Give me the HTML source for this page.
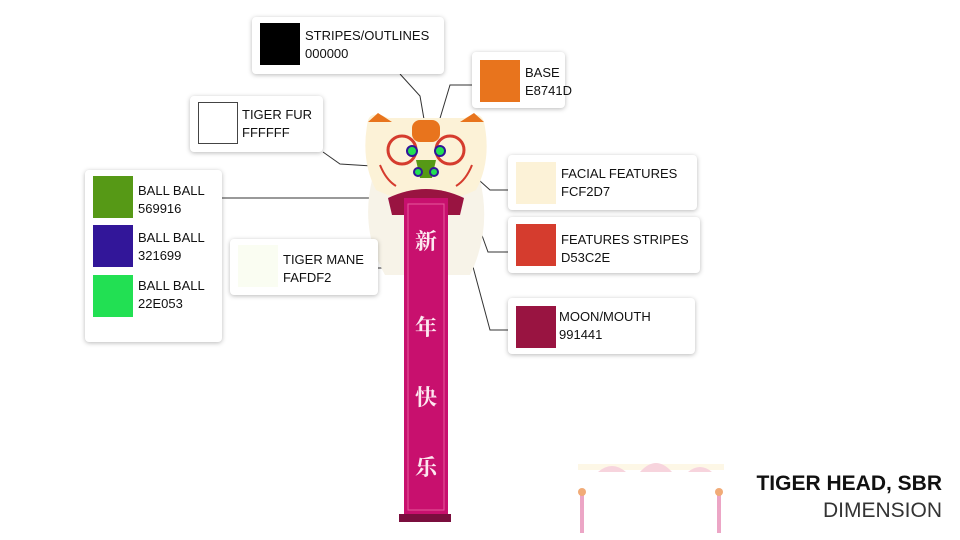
<!DOCTYPE html>
<html><head><meta charset="utf-8"><style>
body{margin:0;width:960px;height:540px;background:#fff;position:relative;overflow:hidden;font-family:"Liberation Sans","Noto Sans CJK SC",sans-serif}
.b{position:absolute;background:#fff;border-radius:4px;box-shadow:0 1px 5px rgba(0,0,0,.28)}
.s{position:absolute;width:40px;height:42px}
.t{position:absolute;font-size:13px;line-height:18px;color:#111}
</style></head><body>
<svg width="960" height="540" style="position:absolute;left:0;top:0">
<g stroke="#333" stroke-width="1" fill="none">
<polyline points="400,74 420,96 425,125"/>
<polyline points="472,85 450,85 438,125"/>
<polyline points="323,152 340,164 372,166"/>
<polyline points="222,198 410,198 418,170"/>
<polyline points="508,190 490,190 470,172"/>
<polyline points="508,252 488,252 462,180"/>
<polyline points="508,330 490,330 455,200"/>
<polyline points="378,268 392,268"/>
</g>
<path d="M372,180 Q360,230 385,275 L470,275 Q492,230 480,180Z" fill="#f7f3e8"/>
<path d="M368,120 Q372,110 388,118 L465,118 Q480,110 484,122 Q492,160 476,190 Q426,214 376,190 Q360,160 368,120Z" fill="#fcf2d7"/>
<path d="M368,122 L378,113 L392,122 Z M484,122 L474,113 L460,122Z" fill="#e8741d"/>
<rect x="412" y="120" width="28" height="22" rx="8" fill="#e8741d"/>
<circle cx="402" cy="150" r="14" fill="none" stroke="#d53c2e" stroke-width="3"/>
<circle cx="450" cy="150" r="14" fill="none" stroke="#d53c2e" stroke-width="3"/>
<path d="M380,165 Q386,180 396,186 M472,165 Q466,180 456,186" stroke="#d53c2e" stroke-width="2" fill="none"/>
<circle cx="412" cy="151" r="5" fill="#22e053" stroke="#321699" stroke-width="2"/>
<circle cx="440" cy="151" r="5" fill="#22e053" stroke="#321699" stroke-width="2"/>
<path d="M416,160 L436,160 L432,178 L420,178Z" fill="#569916"/>
<circle cx="418" cy="172" r="4" fill="#22e053" stroke="#321699" stroke-width="2"/>
<circle cx="434" cy="172" r="4" fill="#22e053" stroke="#321699" stroke-width="2"/>
<path d="M388,198 Q426,180 464,198 L460,215 L392,215Z" fill="#991441"/>
<rect x="404" y="198" width="44" height="318" fill="#c8106e"/>
<rect x="408" y="204" width="36" height="306" fill="none" stroke="#e65a9c" stroke-width="1"/>
<rect x="399" y="514" width="52" height="8" fill="#7a0e3e"/>
<g opacity=".6">
<rect x="578" y="464" width="146" height="6" fill="#fcf2d7"/>
<path d="M598,472 Q612,460 626,472Z M640,472 Q656,454 672,472Z M688,472 Q700,462 712,472Z" fill="#f3b8c8"/>
<rect x="580" y="495" width="4" height="38" fill="#e06aa0"/>
<rect x="717" y="495" width="4" height="38" fill="#e06aa0"/>
<circle cx="582" cy="492" r="4" fill="#e8741d"/>
<circle cx="719" cy="492" r="4" fill="#e8741d"/>
</g>
</svg>
<div style="position:absolute;left:404px;top:230px;width:44px;text-align:center;color:#fde8f0;font-size:22px;font-weight:bold;font-family:'Noto Serif CJK SC','Noto Sans CJK SC',serif;line-height:1">
<div style="position:absolute;top:0;width:44px">新</div>
<div style="position:absolute;top:86px;width:44px">年</div>
<div style="position:absolute;top:156px;width:44px">快</div>
<div style="position:absolute;top:226px;width:44px">乐</div>
</div>

<div class="b" style="left:252px;top:17px;width:192px;height:57px"><div class="s" style="left:8px;top:6px;background:#000"></div><div class="t" style="left:53px;top:10px">STRIPES/OUTLINES<br>000000</div></div>
<div class="b" style="left:472px;top:52px;width:93px;height:56px"><div class="s" style="left:8px;top:8px;background:#e8741d"></div><div class="t" style="left:53px;top:12px">BASE<br>E8741D</div></div>
<div class="b" style="left:190px;top:96px;width:133px;height:56px"><div class="s" style="left:8px;top:6px;background:#fff;border:1px solid #444;width:38px;height:40px"></div><div class="t" style="left:52px;top:10px">TIGER FUR<br>FFFFFF</div></div>
<div class="b" style="left:508px;top:155px;width:189px;height:55px"><div class="s" style="left:8px;top:7px;background:#fcf2d7"></div><div class="t" style="left:53px;top:10px">FACIAL FEATURES<br>FCF2D7</div></div>
<div class="b" style="left:508px;top:217px;width:192px;height:56px"><div class="s" style="left:8px;top:7px;background:#d53c2e"></div><div class="t" style="left:53px;top:14px">FEATURES STRIPES<br>D53C2E</div></div>
<div class="b" style="left:508px;top:298px;width:187px;height:56px"><div class="s" style="left:8px;top:8px;background:#991441"></div><div class="t" style="left:51px;top:10px">MOON/MOUTH<br>991441</div></div>
<div class="b" style="left:85px;top:170px;width:137px;height:172px">
<div class="s" style="left:8px;top:6px;background:#569916"></div><div class="t" style="left:53px;top:12px">BALL BALL<br>569916</div>
<div class="s" style="left:8px;top:55px;background:#321699"></div><div class="t" style="left:53px;top:59px">BALL BALL<br>321699</div>
<div class="s" style="left:8px;top:105px;background:#22e053"></div><div class="t" style="left:53px;top:107px">BALL BALL<br>22E053</div></div>
<div class="b" style="left:230px;top:239px;width:148px;height:56px"><div class="s" style="left:8px;top:6px;background:#fafdf2"></div><div class="t" style="left:53px;top:12px">TIGER MANE<br>FAFDF2</div></div>

<div style="position:absolute;right:18px;top:470px;text-align:right;font-size:21px;line-height:27px;color:#111"><b>TIGER HEAD, SBR</b><br><span style="font-weight:300;color:#333">DIMENSION</span></div>
</body></html>
